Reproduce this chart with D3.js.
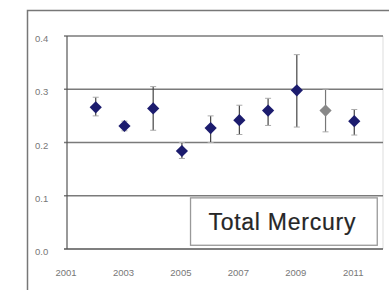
<!DOCTYPE html>
<html>
<head>
<meta charset="utf-8">
<script src="https://cdn.jsdelivr.net/npm/d3@7"></script>
<style>
  body { margin: 0; background: #fff; }
  svg { display: block; font-family: "Liberation Sans", Arial, sans-serif; }
</style>
</head>
<body>
<svg width="389" height="290"></svg>
<script>
// Data
const years = [2002, 2003, 2004, 2005, 2006, 2007, 2008, 2009, 2010, 2011];
const means = [0.266, 0.231, 0.264, 0.184, 0.227, 0.242, 0.260, 0.298, 0.260, 0.240];
const lows  = [0.250, 0.222, 0.223, 0.170, 0.200, 0.215, 0.232, 0.229, 0.220, 0.214];
const highs = [0.285, 0.240, 0.305, 0.200, 0.250, 0.270, 0.283, 0.365, 0.300, 0.262];
const flagged = [false, false, false, false, false, false, false, false, true, false];
const yTicks = [0.0, 0.1, 0.2, 0.3, 0.4];
const xTicks = [2001, 2003, 2005, 2007, 2009, 2011];
const label = 'Total Mercury';

const svg = d3.select('svg');
const margin = {top: 36, right: 6, bottom: 41, left: 67};
const width = +svg.attr('width') - margin.left - margin.right;
const height = +svg.attr('height') - margin.top - margin.bottom;

// outer chart frame
svg.append('path')
  .attr('d', 'M27.5,300 V10.5 H400')
  .attr('fill', 'none')
  .attr('stroke', '#777')
  .attr('stroke-width', 1.5);

const g = svg.append('g').attr('transform', `translate(${margin.left},${margin.top})`);

const x = d3.scaleLinear().domain([2001, 2012]).range([0, width]);
const y = d3.scaleLinear().domain([0, 0.4]).range([height, 0]);

// plot area right edge
g.append('line')
  .attr('x1', width).attr('x2', width)
  .attr('y1', 0).attr('y2', height)
  .attr('stroke', '#ddd');

// gridlines
g.append('g')
  .selectAll('line')
  .data(yTicks).enter()
  .append('line')
  .attr('x1', -3).attr('x2', width)
  .attr('y1', d => y(d)).attr('y2', d => y(d))
  .attr('stroke', d => d === 0 ? '#555' : '#7a7a7a')
  .attr('stroke-width', 1.3);

g.append('line')
  .attr('x1', 0).attr('x2', 0)
  .attr('y1', 0).attr('y2', height)
  .attr('stroke', '#555')
  .attr('stroke-width', 1.2);

// y tick labels
g.append('g')
  .selectAll('text')
  .data(yTicks).enter()
  .append('text')
  .attr('x', -32)
  .attr('y', d => y(d) + 6)
  .attr('font-size', 9.5)
  .attr('fill', '#777')
  .text(d => d.toFixed(1));

// x tick labels
g.append('g')
  .selectAll('text')
  .data(xTicks).enter()
  .append('text')
  .attr('x', d => x(d) - 1)
  .attr('y', height + 27)
  .attr('text-anchor', 'middle')
  .attr('font-size', 9.5)
  .attr('fill', '#777')
  .text(d => d);

// legend box
const box = {x0: 2005.3, x1: 2011.8, y0: 0.096, y1: 0.007};
g.append('rect')
  .attr('x', x(box.x0)).attr('y', y(box.y0))
  .attr('width', x(box.x1) - x(box.x0))
  .attr('height', y(box.y1) - y(box.y0))
  .attr('fill', '#fff')
  .attr('stroke', '#999')
  .attr('stroke-width', 1.3);
g.append('text')
  .attr('x', (x(box.x0) + x(box.x1)) / 2 - 2)
  .attr('y', (y(box.y0) + y(box.y1)) / 2 + 8)
  .attr('text-anchor', 'middle')
  .attr('font-size', 23)
  .attr('fill', '#262626')
  .attr('stroke', '#262626')
  .attr('stroke-width', 0.2)
  .attr('textLength', 147)
  .text(label);

// error bars and markers
const pts = years.map((yr, i) => ({yr, m: means[i], lo: lows[i], hi: highs[i], grey: flagged[i]}));
const colour = d => d.grey ? '#888' : '#1c1c6e';

const pt = g.append('g').selectAll('g')
  .data(pts).enter()
  .append('g');

pt.append('line')
  .attr('x1', d => x(d.yr)).attr('x2', d => x(d.yr))
  .attr('y1', d => y(d.hi)).attr('y2', d => y(d.lo))
  .attr('stroke', d => d.grey ? '#777' : '#444')
  .attr('stroke-width', 1.2);
pt.append('path')
  .attr('d', d => `M${x(d.yr) - 3},${y(d.hi)}H${x(d.yr) + 3}M${x(d.yr) - 3},${y(d.lo)}H${x(d.yr) + 3}`)
  .attr('stroke', '#aaa')
  .attr('stroke-width', 1);
pt.append('path')
  .attr('transform', d => `translate(${x(d.yr)},${y(d.m)})`)
  .attr('d', d3.symbol(d3.symbolDiamond2, 95))
  .attr('fill', colour);
</script>
</body>
</html>
